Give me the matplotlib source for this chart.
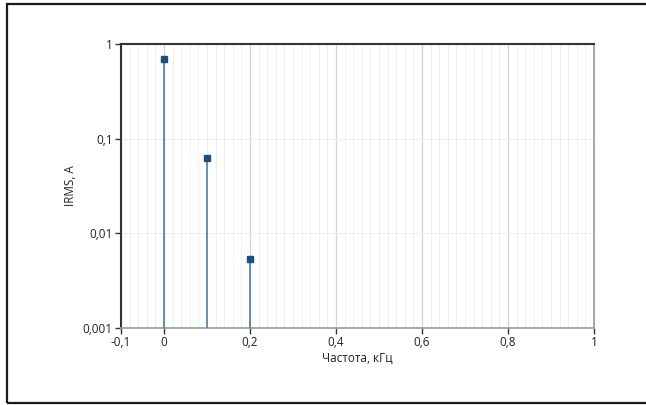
import matplotlib
matplotlib.use("Agg")
import matplotlib.pyplot as plt
from matplotlib.ticker import FixedLocator, MultipleLocator, FuncFormatter
from matplotlib.patches import Rectangle

freq = [0.0, 0.1, 0.2]
irms = [0.695, 0.0625, 0.00536]
xticks = [-0.1, 0, 0.2, 0.4, 0.6, 0.8, 1]
yticks = [0.001, 0.01, 0.1, 1]

plt.rcParams['font.family'] = ['Open Sans', 'DejaVu Sans']

fig = plt.figure(figsize=(6.46, 4.05), dpi=100)
ax = fig.add_axes([0.1873, 0.1901, 0.9195 - 0.1873, 0.8914 - 0.1901])

# frame around the picture (right edge cut off in the original)
fig.patches.append(Rectangle((0.011, 0.006), 1.05, 0.984, transform=fig.transFigure,
                             fill=False, edgecolor='#1a1a1a', linewidth=1.6))

ax.set_yscale('log')
ax.set_xlim(-0.1, 1)
ax.set_ylim(0.001, 1)

ax.vlines(freq, 0.001, irms, color='#5b87a6', linewidth=1.3, zorder=3)
ax.plot(freq, irms, 's', color='#1f4e79', markersize=3.8, zorder=4)

ax.xaxis.set_major_locator(FixedLocator(xticks))
ax.xaxis.set_minor_locator(MultipleLocator(0.02))
ax.yaxis.set_major_locator(FixedLocator(yticks))
ax.yaxis.set_minor_locator(FixedLocator([]))

fmt = lambda v, p: ('%g' % v).replace('.', ',')
ax.xaxis.set_major_formatter(FuncFormatter(fmt))
ax.yaxis.set_major_formatter(FuncFormatter(fmt))

ax.grid(which='major', axis='x', color='#d4d4d4', linewidth=0.9)
ax.grid(which='minor', axis='x', color='#ececec', linewidth=0.6)
ax.grid(which='major', axis='y', color='#eeeeee', linewidth=0.8)
ax.set_axisbelow(True)

ax.tick_params(which='major', direction='out', length=4, width=1, colors='#333333',
               labelsize=8.5, labelcolor='#222222', pad=2)
ax.tick_params(which='minor', length=0)

ax.spines['left'].set_color('#333333')
ax.spines['top'].set_color('#333333')
ax.spines['left'].set_linewidth(1.5)
ax.spines['top'].set_linewidth(1.5)
ax.spines['bottom'].set_color('#a0a0a0')
ax.spines['right'].set_color('#a0a0a0')
ax.spines['bottom'].set_linewidth(1.3)
ax.spines['right'].set_linewidth(1.3)

ax.set_xlabel('Частота, кГц', fontsize=8.5, color='#222222', labelpad=2)
ax.set_ylabel('IRMS, A', fontsize=8.5, color='#222222', labelpad=4)

plt.savefig('out.png', dpi=100)
